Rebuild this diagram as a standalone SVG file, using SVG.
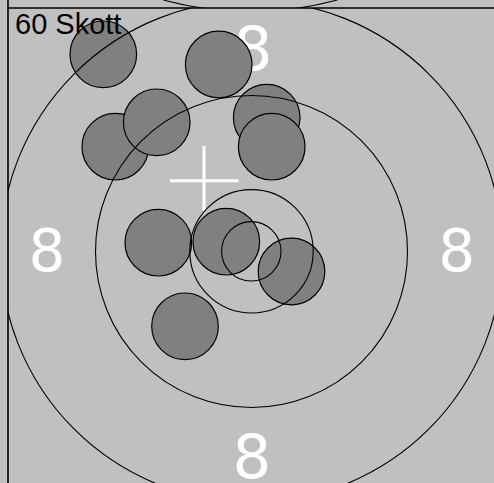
<svg xmlns="http://www.w3.org/2000/svg" width="494" height="483" viewBox="0 0 494 483">
<defs>
<style>
.ring{fill:none;stroke:#000;stroke-width:1.1}
.shot{fill:#808080;stroke:#000;stroke-width:1.2}
.num{fill:#fff;font-family:"DejaVu Sans",sans-serif;text-anchor:middle}
.cross{stroke:#fff;stroke-width:3;fill:none}
</style>
<clipPath id="area"><rect x="8" y="8" width="486" height="475"/></clipPath>
<clipPath id="top"><rect x="8" y="0" width="486" height="8"/></clipPath>
</defs>
<rect x="0" y="0" width="494" height="483" fill="#c0c0c0"/>
<path class="ring" clip-path="url(#top)" d="M163.3,0 A336,336 0 0 0 337.3,0"/>
<g id="numbers">
<text class="num" x="47" y="270.5" font-size="58">8</text>
<text class="num" x="456.7" y="270.5" font-size="58">8</text>
<text class="num" x="253" y="70" font-size="61">8</text>
<text class="num" x="252" y="477.5" font-size="61">8</text>
</g>
<g id="cross"><path class="cross" d="M170,180.7 H238.5 M204,146 V211"/></g>
<g id="shots">
<circle id="shot1" class="shot" cx="103.3" cy="54.3" r="33.3"/>
<circle id="shot2" class="shot" cx="218.7" cy="64.5" r="33.3"/>
<circle id="shot4" class="shot" cx="115.3" cy="146.7" r="33.3"/>
<circle id="shot3" class="shot" cx="156.7" cy="122.3" r="33.3"/>
<circle id="shot5" class="shot" cx="266.7" cy="117.6" r="33.3"/>
<circle id="shot6" class="shot" cx="271.7" cy="146.7" r="33.3"/>
<circle id="shot7" class="shot" cx="158.3" cy="242.7" r="33.3"/>
<circle id="shot8" class="shot" cx="226.3" cy="241.7" r="33.3"/>
<circle id="shot9" class="shot" cx="291.5" cy="271.5" r="33.3"/>
<circle id="shot10" class="shot" cx="185" cy="326.3" r="33.3"/>
</g>
<g id="rings" clip-path="url(#area)">
<circle class="ring" cx="251.5" cy="251.5" r="251"/>
<circle class="ring" cx="251.5" cy="251.5" r="156"/>
<circle class="ring" cx="251.5" cy="251.3" r="61.7"/>
<circle class="ring" cx="251.3" cy="251.3" r="29.7"/>
</g>
<g id="frame" stroke="#000" stroke-width="1.6">
<line x1="8" y1="0" x2="8" y2="483"/>
<line x1="8" y1="8" x2="494" y2="8"/>
</g>
<text id="title" x="15" y="34.3" font-family="'Liberation Sans',Arial,sans-serif" font-size="29" fill="#000">60 Skott</text>
</svg>
